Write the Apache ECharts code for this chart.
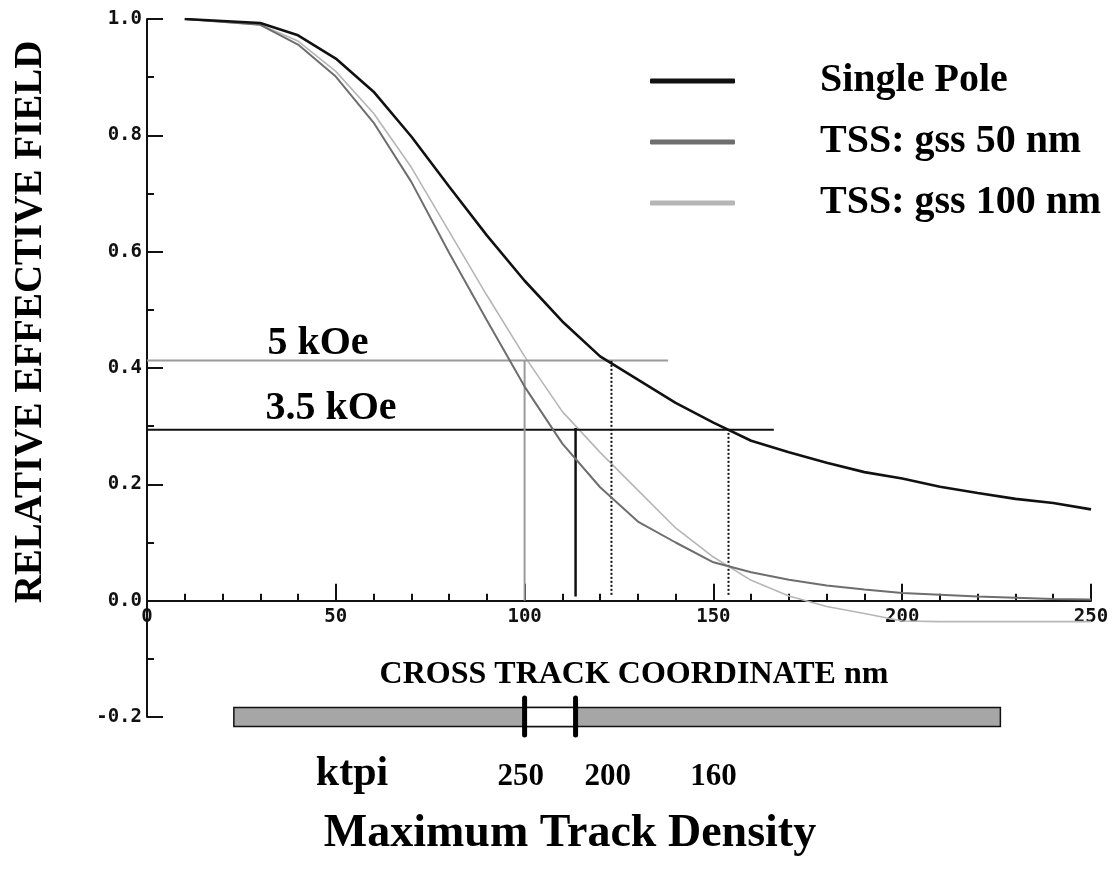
<!DOCTYPE html>
<html><head><meta charset="utf-8">
<script src="https://cdn.jsdelivr.net/npm/echarts@6/dist/echarts.min.js"></script>
<style>html,body{margin:0;padding:0;background:#fff}#c{width:1120px;height:879px}</style>
</head><body><div id="c"></div>
<script>
// ---- data ----
const crossTrackNm = [10,30,40,50,60,70,80,90,100,110,120,130,140,150,160,170,180,190,200,210,220,230,240,250];
const singlePole   = [1.0,0.993,0.972,0.932,0.875,0.798,0.712,0.628,0.55,0.48,0.42,0.38,0.34,0.306,0.275,0.255,0.237,0.221,0.21,0.196,0.185,0.175,0.168,0.157];
const tssGss50     = [1.0,0.99,0.956,0.901,0.822,0.72,0.598,0.482,0.368,0.27,0.195,0.136,0.1,0.066,0.049,0.036,0.026,0.019,0.013,0.01,0.007,0.005,0.003,0.002];
const tssGss100    = [1.0,0.99,0.962,0.91,0.838,0.745,0.635,0.525,0.42,0.325,0.255,0.19,0.125,0.075,0.035,0.008,-0.01,-0.022,-0.035,-0.036,-0.036,-0.036,-0.036,-0.036];
const seriesNames  = ['Single Pole','TSS: gss 50 nm','TSS: gss 100 nm'];

const fieldNames   = ['5 kOe','3.5 kOe'];
const fieldLevel   = [0.413, 0.294];
const fieldLineEnd = [138, 166];

const dropX        = [100, 113.5, 123, 154];
const dropTop      = [0.413, 0.297, 0.413, 0.294];
const dropBottom   = [0, 0.007, 0.01, 0.01];

const trackBarNm    = [23, 226];
const writeGapNm    = [100, 113.5];
const trackBarLevel = -0.2;

const ktpiTitle    = 'ktpi';
const ktpiLabels   = ['250','200','160'];
const ktpiAtNm     = [99, 122, 150];

const xAxisTitle = 'CROSS TRACK COORDINATE nm';
const yAxisTitle = 'RELATIVE EFFECTIVE FIELD';
const chartTitle = 'Maximum Track Density';

// ---- chart ----
const zip = (xs, ys) => xs.map((x, i) => [x, ys[i]]);
const serif = '"Liberation Serif","Times New Roman",serif';
const mono = '"DejaVu Sans Mono",monospace';

const curveStyles = [
  {color:'#111111', width:2.6},
  {color:'#6e6e6e', width:2},
  {color:'#b6b6b6', width:1.6}
];
const curveData = [singlePole, tssGss50, tssGss100];
const fieldStyles = [{color:'#9a9a9a', width:2}, {color:'#111111', width:2}];
const dropStyles = [
  {color:'#9a9a9a', width:2, type:'solid'},
  {color:'#111111', width:2.5, type:'solid'},
  {color:'#111111', width:2, type:[2,2]},
  {color:'#111111', width:2, type:[2,2]}
];

const series = [];
curveData.forEach((ys, i) => {
  series.push({
    name: seriesNames[i], type:'line', data: zip(crossTrackNm, ys), symbol:'none',
    lineStyle:{color:curveStyles[i].color, width:curveStyles[i].width},
    itemStyle:{color:curveStyles[i].color}, z: 5 - i, silent:true
  });
});
fieldNames.forEach((n, i) => {
  series.push({
    name: n, type:'line', data: [[0, fieldLevel[i]], [fieldLineEnd[i], fieldLevel[i]]], symbol:'none',
    lineStyle: fieldStyles[i], z: 3, silent:true
  });
});
dropX.forEach((x, i) => {
  series.push({
    name: 'drop' + i, type:'line', data: [[x, dropBottom[i]], [x, dropTop[i]]], symbol:'none',
    lineStyle: dropStyles[i], z: 3, silent:true
  });
});
series.push({
  name:'track', type:'custom', silent:true, z: 4,
  data: [[trackBarNm[0], trackBarNm[1], writeGapNm[0], writeGapNm[1], trackBarLevel]],
  renderItem(params, api) {
    const s = api.coord([api.value(0), api.value(4)]);
    const e = api.coord([api.value(1), api.value(4)]);
    const g1 = api.coord([api.value(2), api.value(4)]);
    const g2 = api.coord([api.value(3), api.value(4)]);
    const h = 19, cy = s[1];
    return {type:'group', children:[
      {type:'rect', shape:{x:s[0], y:cy-h/2, width:e[0]-s[0], height:h}, style:{fill:'#a6a6a6', stroke:'#111', lineWidth:1.5}},
      {type:'rect', shape:{x:g1[0], y:cy-h/2, width:g2[0]-g1[0], height:h}, style:{fill:'#ffffff', stroke:'#111', lineWidth:1.5}},
      {type:'line', shape:{x1:g1[0], y1:cy-19, x2:g1[0], y2:cy+18}, style:{stroke:'#000', lineWidth:5, lineCap:'round'}},
      {type:'line', shape:{x1:g2[0], y1:cy-19, x2:g2[0], y2:cy+18}, style:{stroke:'#000', lineWidth:5, lineCap:'round'}}
    ]};
  }
});

const gridTop = 19, gridBottom = 162, chartH = 879;
const yMin = -0.2, yMax = 1.0;
const plotH = chartH - gridTop - gridBottom;
const zeroOffset = -plotH * (0 - yMin) / (yMax - yMin);

const chart = echarts.init(document.getElementById('c'), null, {renderer:'canvas'});
chart.setOption({
  backgroundColor:'#ffffff',
  animation:false,
  grid:{left:147, right:29, top:gridTop, bottom:gridBottom, containLabel:false},
  xAxis:{
    type:'value', min:0, max:250, interval:50, position:'bottom', offset: zeroOffset,
    axisLine:{onZero:false, lineStyle:{color:'#111', width:2}},
    axisTick:{inside:true, length:17, lineStyle:{color:'#111', width:2}},
    minorTick:{show:true, splitNumber:5, length:7, lineStyle:{color:'#111', width:2}},
    splitLine:{show:false},
    axisLabel:{margin:7, fontFamily:mono, fontWeight:'bold', fontSize:19, color:'#111'}
  },
  yAxis:{
    type:'value', min:yMin, max:yMax, interval:0.2,
    axisLine:{show:true, lineStyle:{color:'#111', width:2}},
    axisTick:{show:true, inside:true, length:16, lineStyle:{color:'#111', width:2}},
    minorTick:{show:true, splitNumber:2, length:7, lineStyle:{color:'#111', width:2}},
    splitLine:{show:false},
    axisLabel:{margin:5, fontFamily:mono, fontWeight:'bold', fontSize:19, color:'#111',
      formatter: v => v.toFixed(1)}
  },
  legend:{
    data: seriesNames, orient:'vertical', left:650, top:61, padding:0,
    itemWidth:85, itemHeight:5, itemGap:21, icon:'roundRect', selectedMode:false,
    textStyle:{fontFamily:serif, fontWeight:'bold', fontSize:40, color:'#000', lineHeight:40, padding:[0,0,0,80]}
  },
  series
});

const textEl = (text, x, y, size, extra) => Object.assign({
  type:'text', x, y, silent:true,
  style:{text, fill:'#000', font:'bold ' + size + 'px ' + serif, textAlign:'center', textVerticalAlign:'middle'}
}, extra || {});

const graphics = [
  textEl(yAxisTitle, 31, 322, 39, {rotation: Math.PI/2}),
  textEl(xAxisTitle, 634, 675, 32),
  textEl(fieldNames[0], 318, 344, 40),
  textEl(fieldNames[1], 331, 409, 40),
  textEl(ktpiTitle, 352, 774, 42),
  textEl(chartTitle, 570, 834, 46)
];
ktpiLabels.forEach((t, i) => {
  const p = chart.convertToPixel({gridIndex:0}, [ktpiAtNm[i], 0]);
  graphics.push(textEl(t, p[0], 777, 31));
});
chart.setOption({graphic: graphics});
</script>
</body></html>
